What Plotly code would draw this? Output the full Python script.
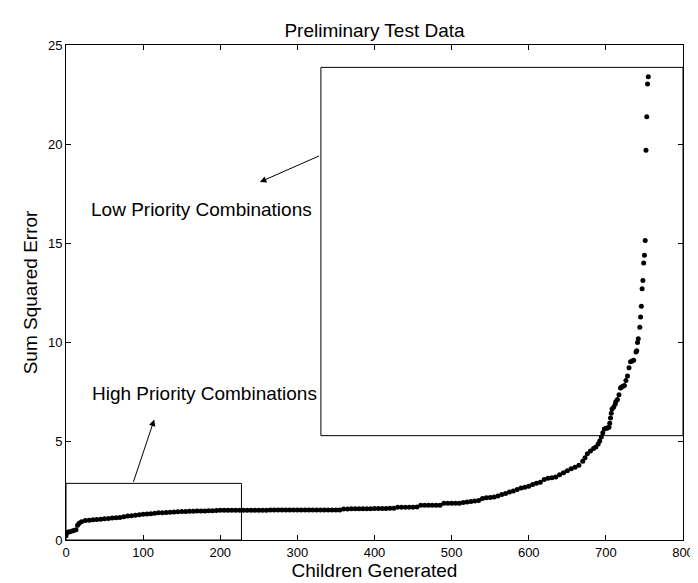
import plotly.graph_objects as go

# Point index (children generated) and sum squared error
children = [0, 1, 3, 5, 8, 10, 13, 15, 17, 20, 25, 30, 35, 40, 45, 50, 55, 60, 65, 70,
            75, 80, 85, 90, 95, 100, 105, 110, 115, 120, 125, 130, 135, 140, 145, 150,
            155, 160, 165, 170, 175, 180, 185, 190, 195, 200, 205, 210, 215, 220, 225,
            230, 235, 240, 245, 250, 255, 260, 265, 270, 275, 280, 285, 290, 295, 300,
            305, 310, 315, 320, 325, 330, 335, 340, 345, 350, 355, 360, 365, 370, 375,
            380, 385, 390, 395, 400, 405, 410, 415, 420, 425, 430, 435, 440, 445, 450,
            455, 460, 465, 470, 475, 480, 485, 490, 495, 500, 505, 510, 515, 520, 525,
            530, 535, 540, 545, 550, 555, 560, 565, 570, 575, 580, 585, 590, 595, 600,
            605, 610, 615, 620, 625, 630, 635, 640, 645, 650, 655, 660, 665, 670, 673,
            676, 680, 684, 687, 690, 692, 694, 696, 698, 700, 702, 704, 705, 706, 707,
            708, 710, 712, 713, 715, 717, 719, 720, 722, 724, 726, 728, 730, 732, 734,
            736, 739, 740, 741, 742, 744, 745, 746, 747, 748, 749, 750, 751, 752, 753,
            754, 755]
sse = [0.22, 0.36, 0.40, 0.42, 0.46, 0.48, 0.52, 0.74, 0.84, 0.92, 0.98, 1.00, 1.02, 1.03,
       1.05, 1.07, 1.09, 1.11, 1.12, 1.14, 1.17, 1.21, 1.23, 1.25, 1.27, 1.30, 1.31, 1.33,
       1.35, 1.37, 1.38, 1.39, 1.40, 1.41, 1.43, 1.44, 1.44, 1.45, 1.45, 1.46, 1.47, 1.47,
       1.48, 1.48, 1.49, 1.50, 1.50, 1.50, 1.50, 1.50, 1.50, 1.50, 1.50, 1.50, 1.50, 1.50,
       1.50, 1.50, 1.51, 1.51, 1.51, 1.51, 1.51, 1.51, 1.51, 1.51, 1.51, 1.51, 1.51, 1.51,
       1.51, 1.51, 1.51, 1.51, 1.51, 1.51, 1.51, 1.57, 1.57, 1.58, 1.58, 1.58, 1.58, 1.58,
       1.58, 1.59, 1.59, 1.59, 1.59, 1.60, 1.60, 1.66, 1.66, 1.66, 1.66, 1.66, 1.67, 1.75,
       1.75, 1.75, 1.75, 1.76, 1.76, 1.85, 1.85, 1.85, 1.86, 1.86, 1.90, 1.92, 1.95, 1.97,
       1.99, 2.10, 2.14, 2.15, 2.17, 2.22, 2.30, 2.35, 2.42, 2.48, 2.55, 2.62, 2.66, 2.72,
       2.80, 2.86, 2.92, 3.05, 3.12, 3.15, 3.18, 3.30, 3.40, 3.50, 3.60, 3.68, 3.78, 3.98,
       4.15, 4.35, 4.50, 4.62, 4.70, 4.85, 5.00, 5.20, 5.42, 5.60, 5.64, 5.66, 5.70, 5.90,
       6.16, 6.40, 6.62, 6.70, 6.85, 7.00, 7.10, 7.34, 7.68, 7.72, 7.76, 7.80, 8.05, 8.28,
       8.70, 9.00, 9.04, 9.08, 9.50, 9.56, 9.98, 10.17, 10.74, 11.26, 11.80, 12.69, 13.11,
       13.99, 14.38, 15.12, 19.68, 21.38, 23.03, 23.40]

x_ticks = [0, 100, 200, 300, 400, 500, 600, 700, 800]
y_ticks = [0, 5, 10, 15, 20, 25]

FONT = "Liberation Sans, Arial, sans-serif"
TEXT_SIZE = 19

fig = go.Figure()
fig.add_trace(go.Scatter(
    x=children, y=sse, mode="markers",
    marker=dict(color="black", size=5, line=dict(width=0)),
    showlegend=False, hoverinfo="x+y",
))

# Boxes around the regions
fig.add_shape(type="rect", xref="x", yref="y", x0=0, x1=227.5, y0=0, y1=2.86,
              line=dict(color="black", width=1), fillcolor="rgba(0,0,0,0)")
fig.add_shape(type="rect", xref="x", yref="y", x0=330.5, x1=800, y0=5.27, y1=23.87,
              line=dict(color="black", width=1), fillcolor="rgba(0,0,0,0)")

# Arrows
fig.add_annotation(x=251.4, y=18.08, ax=330.1, ay=19.43, xref="x", yref="y",
                   axref="x", ayref="y", text="", showarrow=True,
                   arrowhead=2, arrowsize=1.3, arrowwidth=1, arrowcolor="black")
fig.add_annotation(x=114.4, y=6.08, ax=86.8, ay=2.86, xref="x", yref="y",
                   axref="x", ayref="y", text="", showarrow=True,
                   arrowhead=2, arrowsize=1.3, arrowwidth=1, arrowcolor="black")

# Labels
fig.add_annotation(x=31.0, y=16.7, xref="x", yref="y", text="Low Priority Combinations",
                   showarrow=False, xanchor="left", yanchor="middle", borderpad=0,
                   font=dict(family=FONT, size=TEXT_SIZE, color="black"))
fig.add_annotation(x=32.5, y=7.42, xref="x", yref="y", text="High Priority Combinations",
                   showarrow=False, xanchor="left", yanchor="middle", borderpad=0,
                   font=dict(family=FONT, size=TEXT_SIZE, color="black"))

axis_common = dict(showline=True, linecolor="black", linewidth=1, mirror="allticks",
                   ticks="inside", ticklen=5, tickcolor="black", showgrid=False,
                   zeroline=False, tickfont=dict(family=FONT, size=13, color="black"))

fig.update_xaxes(range=[0, 800], tickvals=x_ticks, ticktext=[str(v) for v in x_ticks],
                 title=dict(text="Children Generated",
                            font=dict(family=FONT, size=TEXT_SIZE, color="black"),
                            standoff=3),
                 **axis_common)
fig.update_yaxes(range=[0, 25], tickvals=y_ticks, ticktext=[str(v) for v in y_ticks],
                 title=dict(text="Sum Squared Error",
                            font=dict(family=FONT, size=TEXT_SIZE, color="black"),
                            standoff=5),
                 **axis_common)

fig.update_layout(
    width=698, height=583,
    margin=dict(l=58, r=13, t=37, b=51, pad=0),
    paper_bgcolor="white", plot_bgcolor="white",
    title=dict(text="Preliminary Test Data", x=0.5, xref="paper", xanchor="center",
               y=1 - 22.5 / 583, yref="container", yanchor="middle",
               font=dict(family=FONT, size=TEXT_SIZE, color="black")),
    font=dict(family=FONT, color="black"),
)

fig.write_html("out.html")
